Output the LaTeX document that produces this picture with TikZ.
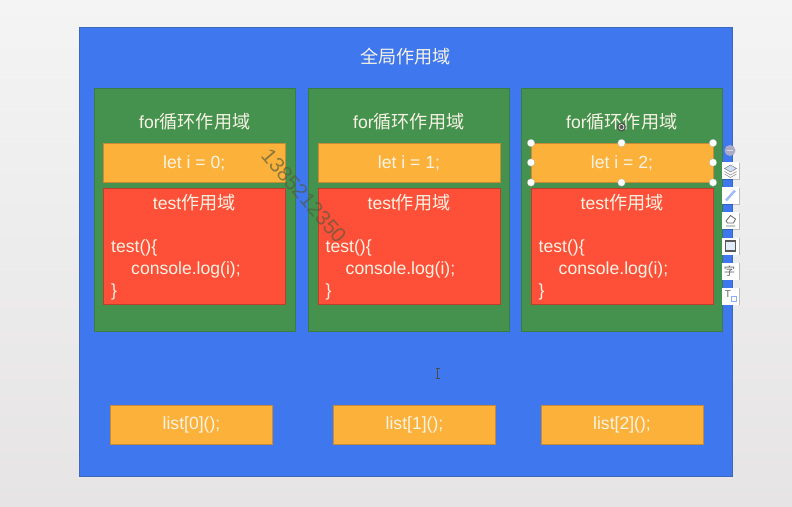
\documentclass[tikz,border=0pt]{standalone}
\usepackage{fontspec}
\setmainfont{Liberation Sans}
\newfontfamily\cjk{Noto Sans CJK SC}[Scale=1.03]
\definecolor{pagetop}{HTML}{F4F4F4}
\definecolor{pagebot}{HTML}{E6E4E5}
\definecolor{blueC}{HTML}{3F78EE}
\definecolor{blueE}{HTML}{3C68B8}
\definecolor{greenC}{HTML}{45914E}
\definecolor{greenE}{HTML}{3A7D44}
\definecolor{orangeC}{HTML}{FCB23A}
\definecolor{orangeE}{HTML}{C98A35}
\definecolor{redC}{HTML}{FE4F38}
\definecolor{redE}{HTML}{B8402F}
\definecolor{textC}{HTML}{F6F3E4}
\definecolor{wm}{HTML}{4F5B3E}
\tikzset{
  x=1pt,y=-1pt,
  txt/.style={text=textC,font=\fontsize{17.6}{17.6}\selectfont,inner sep=0pt},
  handle/.style={circle,fill=white,draw=black!30,line width=.3pt,minimum size=7.5pt,inner sep=0pt},
  tool/.style={rectangle,fill=white,minimum size=17pt,inner sep=0pt,drop shadow={shadow xshift=.5pt,shadow yshift=-.5pt,opacity=.2,fill=black}},
}
\usetikzlibrary{shadows}
\newcommand{\zh}[1]{{\cjk #1}}
\begin{document}
\begin{tikzpicture}
\useasboundingbox (0,0) rectangle (792,506);
\shade[top color=pagetop,bottom color=pagebot] (0,0) rectangle (792,506);
\draw[fill=blueC,draw=blueE,line width=1pt] (79.5,27.5) rectangle (732.5,476.5);
\node[txt] (title) at (405.5,57) {\zh{全局作用域}};
\foreach \n/\xa/\xb/\ia/\ib/\val in {a/94.5/295/103.5/285/0,b/308.5/509/318/500/1,c/521.5/722/531/713/2}{
  \draw[fill=greenC,draw=greenE,line width=1pt] (\xa,88.5) rectangle (\xb,331);
  \draw[fill=orangeC,draw=orangeE,line width=1pt] (\ia,143.5) rectangle (\ib,182.5);
  \draw[fill=redC,draw=redE,line width=1pt] (\ia,188.5) rectangle (\ib,304.5);
  \node[txt] (for\n) at ({(\xa+\xb)/2},122) {for\zh{循环作用域}};
  \node[txt] (let\n) at ({(\ia+\ib)/2},163.5) {let i = \val;};
  \node[txt] (scope\n) at ({(\ia+\ib)/2},202.5) {test\zh{作用域}};
  \node[txt,anchor=base west] (tst\n) at (\ia+7.5,252) {test()\{};
  \node[txt,anchor=base west] (log\n) at (\ia+27.5,274) {console.log(i);};
  \node[txt,anchor=base west] (end\n) at (\ia+7.5,296) {\}};
}
\foreach \n/\xa/\xb/\val in {p/110.5/272.5/0,q/333.5/495.5/1,r/541/703/2}{
  \draw[fill=orangeC,draw=orangeE,line width=1pt] (\xa,405.5) rectangle (\xb,444);
  \node[txt] (list\n) at ({(\xa+\xb)/2},425) {list[\val]();};
}
% watermark
\node[text=wm,font=\fontsize{21}{21}\selectfont,rotate=-49,inner sep=0pt,opacity=.65] (mark) at (304,196) {1385212350};
% selection handles
\foreach \hx/\hy [count=\i] in {531/143,621.5/143,713/143,531/162.5,713/162.5,531/182.5,621.5/182.5,713/182.5}{
  \node[handle] (h\i) at (\hx,\hy) {};
}
\fill[black!70,opacity=.8] (621.5,127) circle (4.5pt);
\node[circle,draw=white,line width=.6pt,minimum size=5pt,inner sep=0pt] (rot) at (621.5,127) {};
% toolbar
\node[circle,fill=blue!20!gray!55!white,minimum size=11pt,inner sep=0pt] (tm) at (730,150.5) {};
\draw[white!85!black,line width=1pt] (727,150.5) -- (733,150.5);
\foreach \ty [count=\i] in {170.5,195.5,220.5,246,271,296}{
  \node[tool] (t\i) at (730.5,\ty) {};
}
\draw[black!50,fill=blueC!25,line width=.5pt] (724.5,168.5) -- (730.5,165) -- (736.5,168.5) -- (730.5,172) -- cycle;
\draw[black!50,line width=.5pt] (724.5,171.5) -- (730.5,175) -- (736.5,171.5);
\draw[black!50,line width=.5pt] (724.5,174) -- (730.5,177.5) -- (736.5,174);
\draw[blueC!50,line width=2.4pt] (726,200.5) -- (735,190.5);
\draw[black!60,line width=.8pt] (726,221) -- (730.5,215.5) -- (735.5,219) -- (733.5,223) -- (727.5,223) -- cycle (726,226) -- (735,226);
\draw[black!65,fill=blueC!15,line width=1.2pt] (725.5,241) rectangle (735.5,251);
\node[text=black!60,font=\fontsize{11}{11}\selectfont,inner sep=0pt] (tz) at (729.5,271) {\zh{字}};
\node[text=black!60,font=\fontsize{10}{10}\selectfont,inner sep=0pt] (tt) at (728,294.5) {T};
\draw[blueC!60,line width=.6pt] (731,296) rectangle (736,301);
% cursor
\draw[black!70,line width=.7pt] (435.5,368.5) -- (439.5,368.5) (437.5,368.5) -- (437.5,378) (435.5,378) -- (439.5,378);
\end{tikzpicture}
\end{document}
